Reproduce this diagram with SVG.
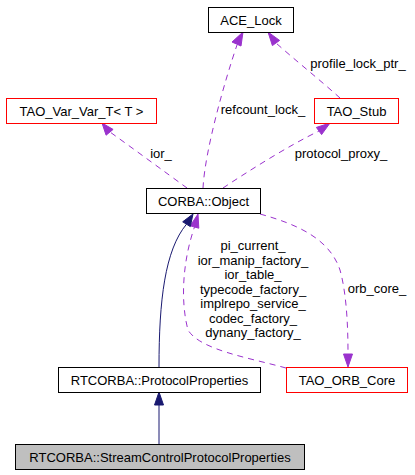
<svg xmlns="http://www.w3.org/2000/svg" width="415" height="475" viewBox="0 0 415 475">
<style>
  text { font-family: "Liberation Sans", Arial, sans-serif; font-size: 13px; fill: #000; text-anchor: middle; }
  .box { fill: #fff; stroke: #000; stroke-width: 1; }
  .red { fill: #fff; stroke: #ff0000; stroke-width: 1; }
  .cur { fill: #bfbfbf; stroke: #000; stroke-width: 1; }
  .use { fill: none; stroke: #9a32cd; stroke-width: 1; stroke-dasharray: 6,5; }
  .usehead { fill: #9a32cd; stroke: #9a32cd; }
  .inh { fill: none; stroke: #191970; stroke-width: 1; }
  .inhhead { fill: #191970; stroke: #191970; }
</style>
<rect width="415" height="475" fill="#fff"/>
<g id="connectors">
  <path class="use" d="M203,188 C205,150 225,80 237,45"/>
  <polygon class="usehead" points="243,32 232,42 241,46"/>
  <path class="use" d="M340,98 C320,80 295,60 276,43"/>
  <polygon class="usehead" points="268,32 279.6,40.4 272.4,45.6"/>
  <path class="use" d="M187,188 C165,172 135,150 110,132"/>
  <polygon class="usehead" points="102,123 113.1,129.4 106.1,135.2"/>
  <path class="use" d="M223,188 C250,170 290,145 319,131"/>
  <polygon class="usehead" points="330,123 321.6,134.6 316.4,127.4"/>
  <path class="use" d="M260,214 C300,225 330,240 340,270 C347,295 348,330 348,354"/>
  <polygon class="usehead" points="348,367 343.5,354 352.5,354"/>
  <path class="use" d="M286,368 C250,358 200,350 188,330 C180,300 183,260 194.5,227"/>
  <polygon class="usehead" points="198,214 198.8,228.2 190.2,225.8"/>
  <path class="inh" d="M159,367 C159,300 165,250 186.5,224.2"/>
  <polygon class="inhhead" points="193,214 190.3,226.6 182.7,221.8"/>
  <path class="inh" d="M159,444 L159,405"/>
  <polygon class="inhhead" points="159,392 154.5,405 163.5,405"/>
  <text x="263" y="114">refcount_lock_</text>
  <text x="358" y="68">profile_lock_ptr_</text>
  <text x="161" y="158">ior_</text>
  <text x="341" y="158">protocol_proxy_</text>
  <text x="377" y="293">orb_core_</text>
  <text x="253" y="250">pi_current_</text>
  <text x="253" y="264.5">ior_manip_factory_</text>
  <text x="253" y="279">ior_table_</text>
  <text x="253" y="293.5">typecode_factory_</text>
  <text x="253" y="308">implrepo_service_</text>
  <text x="253" y="322.5">codec_factory_</text>
  <text x="253" y="337">dynany_factory_</text>
</g>
<g id="ACE_Lock">
  <rect class="box" x="208.5" y="7.5" width="85" height="25"/>
  <text x="251" y="24.5">ACE_Lock</text>
</g>
<g id="TAO_Var_Var_T">
  <rect class="red" x="6.5" y="98.5" width="150" height="25"/>
  <text x="81.5" y="115.5">TAO_Var_Var_T&lt; T &gt;</text>
</g>
<g id="TAO_Stub">
  <rect class="red" x="314.5" y="98.5" width="84" height="25"/>
  <text x="356.5" y="115.5">TAO_Stub</text>
</g>
<g id="CORBA_Object">
  <rect class="box" x="146.5" y="188.5" width="114" height="25"/>
  <text x="203.5" y="206">CORBA::Object</text>
</g>
<g id="RTCORBA_ProtocolProperties">
  <rect class="box" x="58.5" y="367.5" width="202" height="25"/>
  <text x="159.5" y="384.5">RTCORBA::ProtocolProperties</text>
</g>
<g id="TAO_ORB_Core">
  <rect class="red" x="286.5" y="367.5" width="121" height="25"/>
  <text x="347" y="384.5">TAO_ORB_Core</text>
</g>
<g id="RTCORBA_StreamControlProtocolProperties">
  <rect class="cur" x="15.5" y="444.5" width="289" height="25"/>
  <text x="160" y="462">RTCORBA::StreamControlProtocolProperties</text>
</g>
</svg>
